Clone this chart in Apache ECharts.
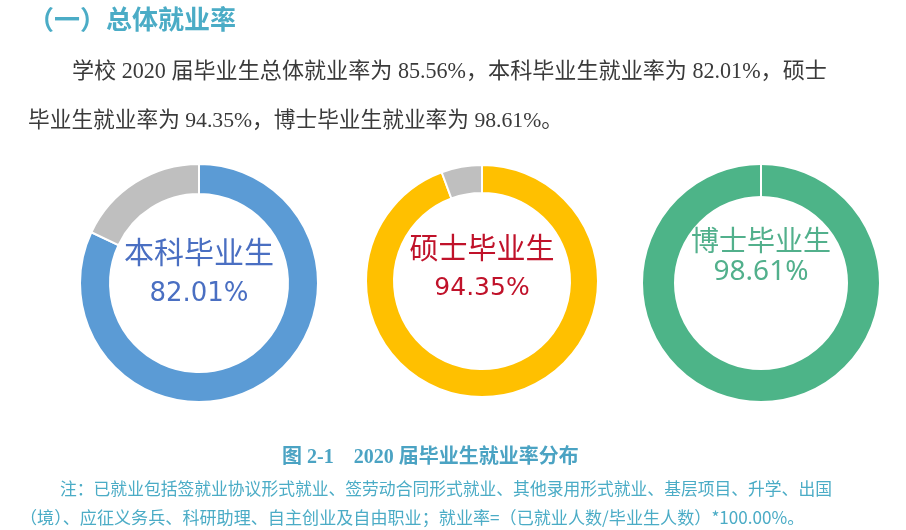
<!DOCTYPE html>
<html><head><meta charset="utf-8">
<script src="https://cdn.jsdelivr.net/npm/echarts@6/dist/echarts.min.js"></script>
<style>html,body{margin:0;padding:0;background:#fff}#c{width:906px;height:530px}</style>
</head><body><div id="c"></div>
<script>
const categories = ['本科毕业生', '硕士毕业生', '博士毕业生'];
const rates = [82.01, 94.35, 98.61];
const rest = [17.99, 5.65, 0];
const heading = '（一）总体就业率';
const paragraph = ['学校 2020 届毕业生总体就业率为 85.56%，本科毕业生就业率为 82.01%，硕士',
                   '毕业生就业率为 94.35%，博士毕业生就业率为 98.61%。'];
const caption = '图 2-1    2020 届毕业生就业率分布';
const notes = ['注：已就业包括签就业协议形式就业、签劳动合同形式就业、其他录用形式就业、基层项目、升学、出国',
               '（境）、应征义务兵、科研助理、自主创业及自由职业；就业率=（已就业人数/毕业生人数）*100.00%。'];

const ringColors = ['#5B9BD5', '#FFC000', '#4DB488'];
const textColors = ['#4A6FC2', '#C0122A', '#52B08C'];
const restColor = '#BFBFBF';
const centers = [[199, 283], [482, 281], [761, 283]];
const radii = [[89, 119], [88, 116], [86, 119]];
const nameSizes = [30, 29, 28];
const valSizes = [26, 25, 28];
const valFonts = ['DejaVu Sans', 'DejaVu Sans', 'Noto Sans'];
const lineHs = [42, 41, 32];
const padB = [20, 26, 54];

const chart = echarts.init(document.getElementById('c'), null, {renderer: 'canvas'});
const series = categories.map((name, i) => ({
  type: 'pie',
  center: centers[i],
  radius: radii[i],
  startAngle: 90,
  clockwise: true,
  silent: true,
  avoidLabelOverlap: false,
  labelLine: {show: false},
  itemStyle: {borderColor: '#fff', borderWidth: 2},
  data: [
    {name: name, value: rates[i], itemStyle: {color: ringColors[i]},
     label: {show: true, position: 'center', padding: [0, 0, padB[i], 0],
       formatter: p => `{n|${p.name}}\n{v|${p.value.toFixed(2)}%}`,
       rich: {
         n: {fontSize: nameSizes[i], fontFamily: 'Noto Sans CJK SC', color: textColors[i], lineHeight: lineHs[i]},
         v: {fontSize: valSizes[i], fontFamily: valFonts[i], color: textColors[i], lineHeight: lineHs[i]}
       }}},
    {name: '未就业', value: rest[i], itemStyle: {color: restColor}, label: {show: false}}
  ]
}));

const txt = (s, x, y, size, color, extra) => ({type: 'text', x, y,
  style: Object.assign({text: s, fontSize: size, fill: color, verticalAlign: 'middle',
    fontFamily: 'Liberation Serif, Noto Sans CJK SC'}, extra || {})});

chart.setOption({
  animation: false,
  backgroundColor: '#fff',
  series,
  graphic: [
    txt(heading, 28, 19, 26, '#4BACC6', {fontWeight: 'bold', fontFamily: 'Noto Sans CJK SC'}),
    txt(paragraph[0], 72, 72, 22.1, '#3a3a3a'),
    txt(paragraph[1], 28, 121, 21.7, '#3a3a3a'),
    txt(caption, 282, 458, 20, '#4BA3C3', {fontWeight: 'bold'}),
    txt(notes[0], 60, 489, 16.8, '#4BACC6', {fontFamily: 'Noto Sans CJK SC'}),
    txt(notes[1], 20, 517, 17.1, '#4BACC6', {fontFamily: 'Noto Sans CJK SC'})
  ]
});
</script></body></html>
